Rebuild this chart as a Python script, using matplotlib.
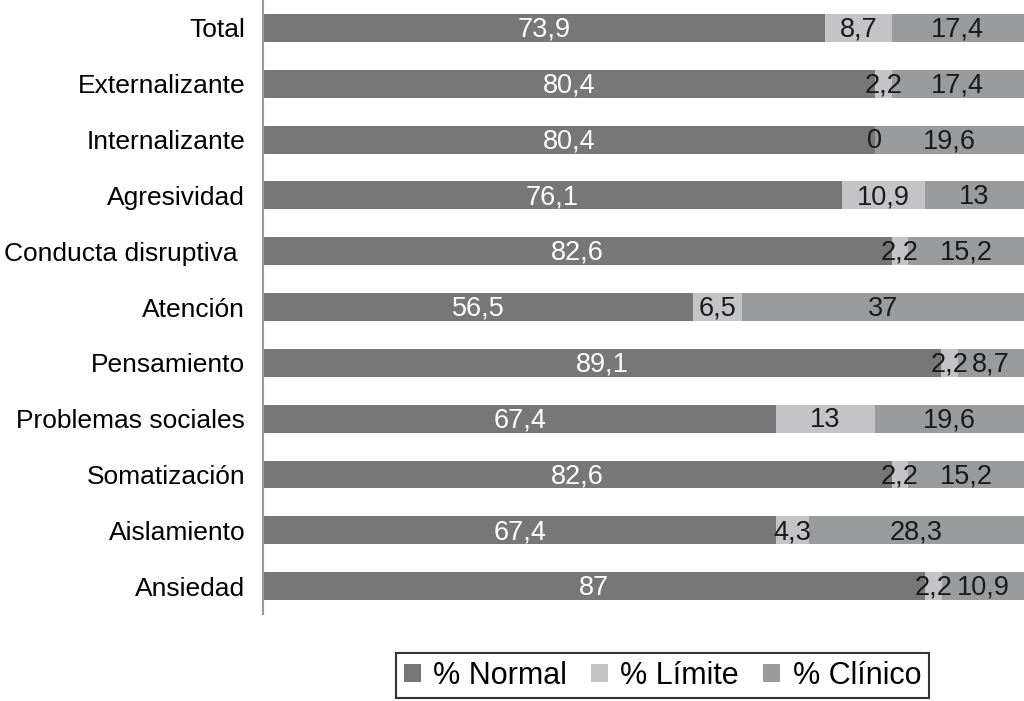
import matplotlib.pyplot as plt
import numpy as np

plt.rcParams['font.family'] = ['Liberation Sans', 'DejaVu Sans']

categorias = ["Total", "Externalizante", "Internalizante", "Agresividad",
              "Conducta disruptiva ", "Atención", "Pensamiento",
              "Problemas sociales", "Somatización", "Aislamiento", "Ansiedad"]
normal = [73.9, 80.4, 80.4, 76.1, 82.6, 56.5, 89.1, 67.4, 82.6, 67.4, 87]
limite = [8.7, 2.2, 0, 10.9, 2.2, 6.5, 2.2, 13, 2.2, 4.3, 2.2]
clinico = [17.4, 17.4, 19.6, 13, 15.2, 37, 8.7, 19.6, 15.2, 28.3, 10.9]

series = [("% Normal", normal, "#777777", "white"),
          ("% Límite", limite, "#c4c4c6", "#1a1a1a"),
          ("% Clínico", clinico, "#9a9b9d", "#1a1a1a")]

fig = plt.figure(figsize=(10.24, 7.01), dpi=100)
ax = fig.add_axes([0.257, 0.124, 0.743, 0.876])

y = np.arange(len(categorias))
left = np.zeros(len(categorias))
for nombre, vals, color, tcolor in series:
    vals = np.array(vals, dtype=float)
    ax.barh(y, vals, left=left, height=0.5, color=color, edgecolor="none", label=nombre)
    for yi, l, v in zip(y, left, vals):
        txt = "{:g}".format(v).replace(".", ",")
        ax.text(l + v / 2, yi + 0.03, txt, ha="center", va="center", color=tcolor, fontsize=19.5)
    left += vals

ax.set_xlim(0, 100)
ax.set_ylim(len(categorias) - 0.5, -0.5)
ax.set_yticks(y)
ax.set_yticklabels(categorias, fontsize=19)
ax.tick_params(axis="y", length=0, pad=13)
ax.set_xticks([])
for s in ["top", "right", "bottom"]:
    ax.spines[s].set_visible(False)
ax.spines["left"].set_color("#999999")
ax.spines["left"].set_linewidth(1.5)

leg = fig.legend(loc="center", bbox_to_anchor=(0.647, 0.036), ncol=3, fontsize=22,
                 frameon=True, fancybox=False, edgecolor="black",
                 handlelength=0.55, handleheight=0.55, handletextpad=0.4,
                 columnspacing=0.8, borderpad=0.25)
leg.get_frame().set_linewidth(1.5)

fig.savefig("out.png", dpi=100)
